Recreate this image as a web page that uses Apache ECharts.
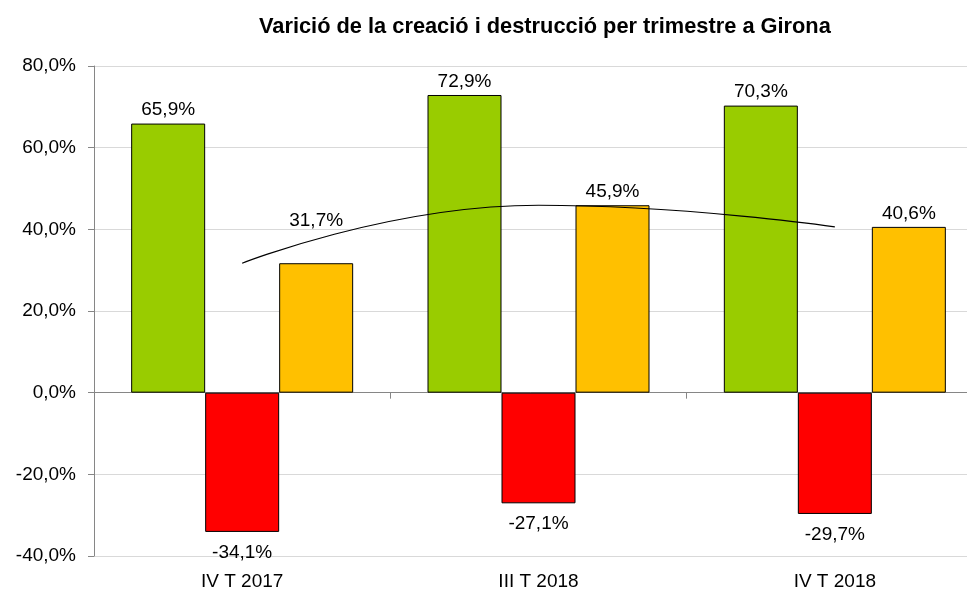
<!DOCTYPE html>
<html>
<head>
<meta charset="utf-8">
<script src="https://cdn.jsdelivr.net/npm/echarts@6/dist/echarts.min.js"></script>
<style>
html,body{margin:0;padding:0;background:#fff;overflow:hidden;}
#chart{width:967px;height:592px;}
</style>
</head>
<body>
<div id="chart"></div>
<script>
const categories = ['IV T 2017', 'III T 2018', 'IV T 2018'];
const creacio = [65.9, 72.9, 70.3];
const destruccio = [-34.1, -27.1, -29.7];
const variacio = [31.7, 45.9, 40.6];
const yTicks = { min: -40, max: 80, interval: 20 };
const titleText = 'Varició de la creació i destrucció per trimestre a Girona';

const fmt = v => v.toFixed(1).replace('.', ',') + '%';
const FONT = '"Liberation Sans", Arial, sans-serif';

const chart = echarts.init(document.getElementById('chart'), null, {renderer: 'canvas'});
const labelStyle = { show: true, color: '#000', fontFamily: FONT, fontSize: 19,
  formatter: p => fmt(p.value) };

chart.setOption({
  animation: false,
  backgroundColor: '#fff',
  title: {
    text: titleText, left: 254, top: 11,
    textStyle: { fontFamily: FONT, fontWeight: 'bold', fontSize: 21.8, color: '#000' }
  },
  grid: { left: 94, top: 66, width: 889, height: 490, outerBoundsMode: 'none', containLabel: false },
  xAxis: [
    { type: 'category', data: categories,
      axisLine: { onZero: true, lineStyle: { color: '#868686', width: 1 } },
      axisTick: { show: true, length: 6, lineStyle: { color: '#868686' } },
      axisLabel: { show: false } },
    { type: 'category', data: categories, position: 'bottom',
      axisLine: { show: false, onZero: false }, axisTick: { show: false },
      axisLabel: { show: true, margin: 16, color: '#000', fontFamily: FONT, fontSize: 19 } }
  ],
  yAxis: {
    type: 'value', min: yTicks.min, max: yTicks.max, interval: yTicks.interval,
    axisLine: { show: true, lineStyle: { color: '#868686' } },
    axisTick: { show: true, length: 6, lineStyle: { color: '#868686' } },
    splitLine: { show: true, lineStyle: { color: '#d9d9d9', width: 1 } },
    axisLabel: { margin: 18, color: '#000', fontFamily: FONT, fontSize: 19,
      formatter: v => fmt(v) }
  },
  series: [
    { type: 'bar', data: creacio, barWidth: 74, barGap: '0%', xAxisIndex: 0,
      itemStyle: { color: '#99CC00', borderColor: '#000', borderWidth: 1 },
      label: Object.assign({}, labelStyle, { position: 'top', distance: 4 }) },
    { type: 'bar', data: destruccio, barWidth: 74, barGap: '0%', xAxisIndex: 0,
      itemStyle: { color: '#FF0000', borderColor: '#000', borderWidth: 1 },
      label: Object.assign({}, labelStyle, { position: 'bottom', distance: 11 }) },
    { type: 'bar', barWidth: 74, barGap: '0%', xAxisIndex: 0,
      data: variacio.map((v, i) => i === 0 ? { value: v, label: { offset: [0, -29] } } : v),
      itemStyle: { color: '#FFC000', borderColor: '#000', borderWidth: 1 },
      label: Object.assign({}, labelStyle, { position: 'top', distance: 4 }) },
    { type: 'line', data: variacio, smooth: 0.5, symbol: 'none', xAxisIndex: 0, z: 5,
      lineStyle: { color: '#000', width: 1.2 }, silent: true }
  ]
});
</script>
</body>
</html>
